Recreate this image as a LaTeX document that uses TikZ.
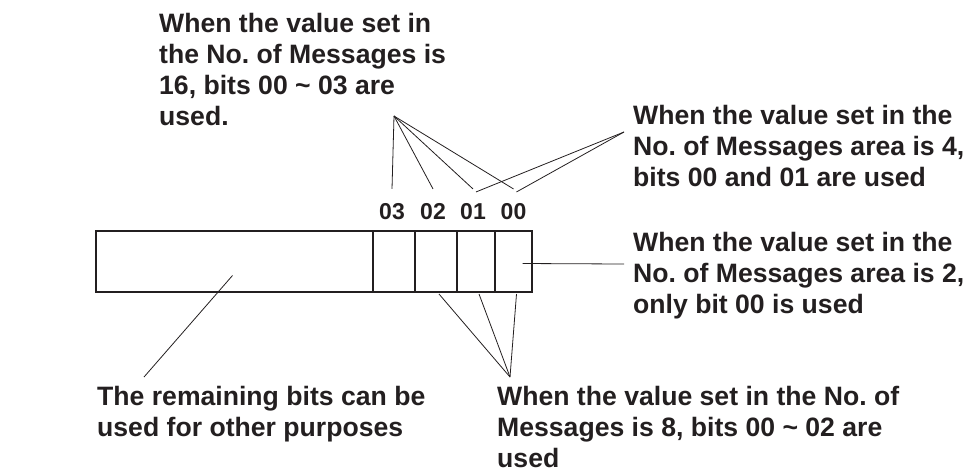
\documentclass[tikz,border=0pt]{standalone}
\usepackage{fontspec}
\setmainfont{Liberation Sans}
\usepackage{tikz}
\usetikzlibrary{positioning,calc}
\definecolor{InkGray}{HTML}{231F20}
\frenchspacing

\begin{document}
\begin{tikzpicture}[
  x=1pt,y=-1pt,
  note/.style={align=left,inner sep=0pt,anchor=base west,text=InkGray,
               font=\fontsize{26.6}{31}\selectfont\bfseries},
  bitno/.style={inner sep=0pt,outer ysep=14pt,anchor=base,text=InkGray,
                font=\fontsize{23}{23}\selectfont\bfseries},
  cell/.style={draw=InkGray,line width=1.6pt,minimum height=61pt,
               inner sep=0pt,outer sep=0pt,anchor=west},
  lead/.style={draw=InkGray,line width=0.8pt}
]
\useasboundingbox (0,0) rectangle (976,475);
% the register word
\node[cell,minimum width=277pt] (rest) at (96,261.5) {};
\node[cell,minimum width=42pt,right=0pt of rest] (b03) {};
\node[cell,minimum width=42pt,right=0pt of b03] (b02) {};
\node[cell,minimum width=38pt,right=0pt of b02] (b01) {};
\node[cell,minimum width=37pt,right=0pt of b01] (b00) {};
% bit numbers
\node[bitno] (l03) at ($(b03.north)+(-2,-12)$) {03};
\node[bitno] (l02) at ($(b02.north)+(-3,-12)$) {02};
\node[bitno] (l01) at ($(b01.north)+(-3,-12)$) {01};
\node[bitno] (l00) at ($(b00.north)+(0,-12)$) {00};
% notes (anchored at the baseline of their last line)
\node[note] (t16) at (159,125) {When the value set in\\the No. of Messages is\\16, bits 00 \textasciitilde{} 03 are\\used.};
\node[note] (t4) at (633,186) {When the value set in the\\No. of Messages area is 4,\\bits 00 and 01 are used};
\node[note] (t2) at (633,313) {When the value set in the\\No. of Messages area is 2,\\only bit 00 is used};
\node[note] (t8) at (497,467) {When the value set in the No. of\\Messages is 8, bits 00 \textasciitilde{} 02 are\\used};
\node[note] (trest) at (97,436) {The remaining bits can be\\used for other purposes};
% leader tips
\coordinate (tip16) at (394,116);
\coordinate (tip4) at (624,132);
\coordinate (tip2) at (624,264);
\coordinate (tip8) at (510,377);
\coordinate (tiprest) at (144,377);
% leaders
\foreach \b in {l03,l02,l01,l00}
  \draw[lead] (tip16) -- (\b.north);
\foreach \b in {l01,l00}
  \draw[lead] (tip4) -- ($(\b.north)+(3,3)$);
\draw[lead] ($(b00.center)+(9,2)$) -- (tip2);
\foreach \b in {b02,b01,b00}
  \draw[lead] ($(\b.south)+(3,2)$) -- (tip8);
\draw[lead] ($(rest.center)+(-2,14)$) -- (tiprest);
\end{tikzpicture}
\end{document}
